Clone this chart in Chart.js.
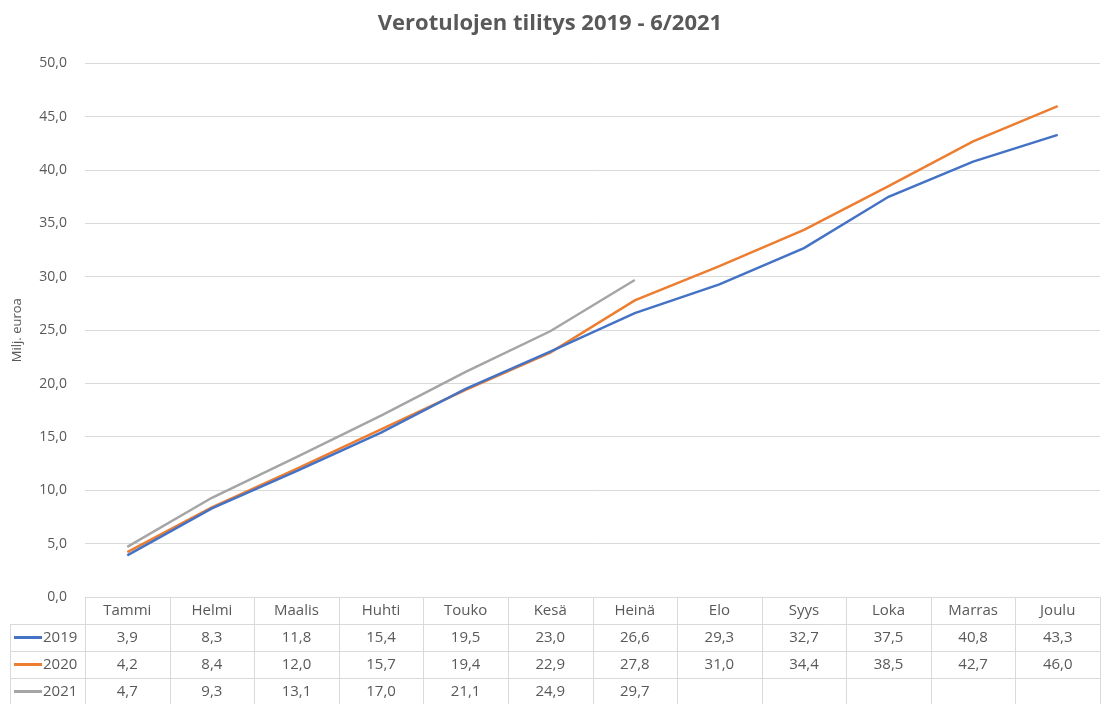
<!DOCTYPE html>
<html>
<head>
<meta charset="utf-8">
<script src="https://cdn.jsdelivr.net/npm/chart.js@4"></script>
<style>
  html, body { margin: 0; padding: 0; background: #fff; }
  #wrap { width: 1105px; height: 704px; }
</style>
</head>
<body>
<div id="wrap"><canvas id="line-chart"></canvas></div>
<script>
const months = ['Tammi', 'Helmi', 'Maalis', 'Huhti', 'Touko', 'Kesä', 'Heinä', 'Elo', 'Syys', 'Loka', 'Marras', 'Joulu'];
const years = ['2019', '2020', '2021'];
const values2019 = [3.9, 8.3, 11.8, 15.4, 19.5, 23.0, 26.6, 29.3, 32.7, 37.5, 40.8, 43.3];
const values2020 = [4.2, 8.4, 12.0, 15.7, 19.4, 22.9, 27.8, 31.0, 34.4, 38.5, 42.7, 46.0];
const values2021 = [4.7, 9.3, 13.1, 17.0, 21.1, 24.9, 29.7, null, null, null, null, null];
const colors = ['#4472C4', '#ED7D31', '#A5A5A5'];

const fmt = v => v.toFixed(1).replace('.', ',');
const textColor = '#595959';
const gridColor = '#d9d9d9';
const fontFamily = "'Open Sans', sans-serif";

// data table under the plot, columns follow the x scale
const dataTable = {
  id: 'dataTable',
  afterDraw(chart) {
    const ctx = chart.ctx;
    const x = chart.scales.x;
    const area = chart.chartArea;
    const rowH = 27;
    const top = area.bottom;
    const colW = x.width / months.length;
    const legLeft = 10;
    const bottom = top + rowH * 4;

    ctx.save();
    ctx.strokeStyle = gridColor;
    ctx.lineWidth = 1;
    ctx.beginPath();
    ctx.moveTo(area.left, top + 0.5);
    ctx.lineTo(area.right, top + 0.5);
    for (let r = 1; r <= 3; r++) {
      ctx.moveTo(legLeft, top + rowH * r + 0.5);
      ctx.lineTo(area.right, top + rowH * r + 0.5);
    }
    for (let i = 0; i <= months.length; i++) {
      const px = Math.round(x.left + colW * i) + 0.5;
      ctx.moveTo(px, top);
      ctx.lineTo(px, bottom);
    }
    ctx.moveTo(legLeft + 0.5, top + rowH);
    ctx.lineTo(legLeft + 0.5, bottom);
    ctx.stroke();

    ctx.font = '15px ' + fontFamily;
    ctx.fillStyle = textColor;
    ctx.textAlign = 'center';
    ctx.textBaseline = 'middle';
    months.forEach((m, i) => {
      ctx.fillText(m, x.getPixelForValue(i), top + rowH / 2);
    });

    chart.data.datasets.forEach((ds, r) => {
      const cy = top + rowH * (r + 1) + rowH / 2;
      ctx.strokeStyle = ds.borderColor;
      ctx.lineWidth = 3;
      ctx.beginPath();
      ctx.moveTo(14, cy);
      ctx.lineTo(42, cy);
      ctx.stroke();
      ctx.fillStyle = textColor;
      ctx.textAlign = 'left';
      ctx.fillText(ds.label, 43, cy);
      ctx.textAlign = 'center';
      ds.data.forEach((v, i) => {
        if (v !== null) ctx.fillText(fmt(v), x.getPixelForValue(i), cy);
      });
    });
    ctx.restore();
  }
};

const lineData = {
  labels: months,
  datasets: [
    { label: years[0], data: values2019, borderColor: colors[0] },
    { label: years[1], data: values2020, borderColor: colors[1] },
    { label: years[2], data: values2021, borderColor: colors[2] },
  ].map(d => Object.assign(d, { borderWidth: 2.5, pointRadius: 0, tension: 0, spanGaps: false, backgroundColor: d.borderColor })),
};

const lineConfig = {
  type: 'line',
  data: lineData,
  options: {
    responsive: true,
    maintainAspectRatio: false,
    animation: false,
    layout: { padding: { left: 0, right: 5, top: 0, bottom: 99 } },
    plugins: {
      legend: { display: false },
      tooltip: { enabled: false },
      title: {
        display: true,
        text: 'Verotulojen tilitys 2019 - 6/2021',
        color: textColor,
        font: { family: fontFamily, size: 22, weight: 'bold' },
        padding: { top: 11, bottom: 26 },
      },
    },
    scales: {
      x: {
        type: 'category',
        offset: true,
        grid: { display: false },
        border: { display: false },
        ticks: { display: false },
      },
      y: {
        min: 0,
        max: 50,
        grid: { color: gridColor, drawTicks: false },
        border: { display: false },
        ticks: {
          stepSize: 5,
          padding: 18,
          color: textColor,
          font: { family: fontFamily, size: 14 },
          callback: v => fmt(v),
        },
        title: {
          display: true,
          text: 'Milj. euroa',
          color: textColor,
          font: { family: fontFamily, size: 13 },
          padding: { top: 9, bottom: 0 },
        },
        afterFit(scale) { scale.width = 85; },
      },
    },
  },
  plugins: [dataTable],
};

new Chart(document.getElementById('line-chart'), lineConfig);
</script>
</body>
</html>
